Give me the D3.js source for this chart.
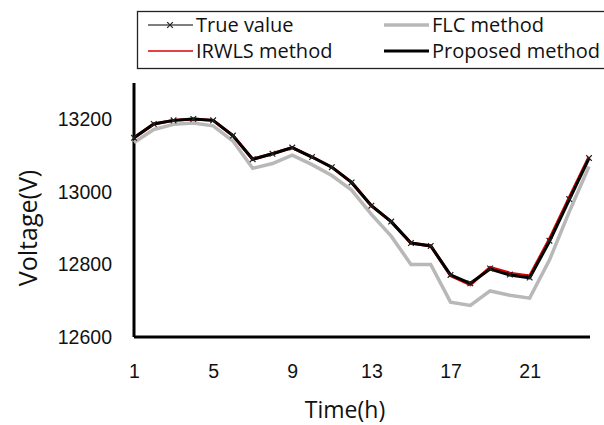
<!DOCTYPE html>
<html>
<head>
<meta charset="utf-8">
<script src="https://cdn.jsdelivr.net/npm/d3@7"></script>
<style>
  html,body{margin:0;padding:0;background:#fff;overflow:hidden;}
  svg{display:block;font-family:"Open Sans","Noto Sans",sans-serif;}
</style>
</head>
<body>
<svg id="chart" width="604" height="425"></svg>
<script>
// hours 1..24
const hours = d3.range(1, 25);
const trueValue = [13149,13187,13197,13201,13197,13155,13090,13105,13122,13096,13068,13026,
                   12962,12918,12859,12851,12771,12748,12789,12772,12764,12865,12980,13093];
const flcMethod = [13136,13172,13186,13190,13182,13140,13065,13078,13101,13075,13045,13005,
                   12938,12878,12800,12800,12696,12687,12727,12715,12707,12812,12945,13070];
const irwlsMethod = [13149,13187,13197,13201,13197,13155,13090,13105,13122,13096,13068,13026,
                     12962,12918,12859,12851,12769,12744,12792,12776,12768,12870,12984,13096];
const proposedMethod = [13149,13187,13197,13201,13197,13155,13090,13105,13122,13096,13068,13026,
                        12962,12918,12859,12851,12771,12748,12787,12771,12763,12863,12978,13092];
const xTicks = [1,5,9,13,17,21];
const yTicks = [12600,12800,13000,13200];

const svg = d3.select('#chart');
const x = d3.scaleLinear().domain([1,24]).range([134,589]);
const y = d3.scaleLinear().domain([12600,13300]).range([337,83]);

// axes
const xAxis = svg.append('g').attr('transform','translate(0,337)')
  .call(d3.axisBottom(x).tickValues(xTicks).tickSize(0).tickPadding(27));
xAxis.select('.domain').attr('stroke','#000').attr('stroke-width',3).attr('d','M134,0H590');
xAxis.selectAll('text').attr('font-size',19.5).attr('fill','#111');

const yAxis = svg.append('g').attr('transform','translate(134,0)')
  .call(d3.axisLeft(y).tickValues(yTicks).tickSize(0).tickPadding(22).tickFormat(d3.format('d')));
yAxis.select('.domain').attr('stroke','#000').attr('stroke-width',3).attr('d','M0,337V83');
yAxis.selectAll('text').attr('font-size',19.5).attr('fill','#111');

svg.append('text').attr('x',345).attr('y',418).attr('text-anchor','middle')
  .attr('font-size',23).attr('fill','#111').text('Time(h)');
svg.append('text').attr('transform','translate(37,228) rotate(-90)').attr('text-anchor','middle')
  .attr('font-size',25).attr('fill','#111').text('Voltage(V)');

// lines
const line = arr => d3.line().x((d,i)=>x(hours[i])).y(d=>y(d))(arr);
svg.append('path').attr('d',line(flcMethod)).attr('fill','none').attr('stroke','#b8b8b8').attr('stroke-width',3.5);
svg.append('path').attr('d',line(irwlsMethod)).attr('fill','none').attr('stroke','#e00000').attr('stroke-width',3);
svg.append('path').attr('d',line(proposedMethod)).attr('fill','none').attr('stroke','#000').attr('stroke-width',3);
svg.append('path').attr('d',line(trueValue)).attr('fill','none').attr('stroke','#000').attr('stroke-width',1.2);

svg.append('g').selectAll('path').data(trueValue).join('path')
  .attr('transform',(d,i)=>`translate(${x(hours[i])},${y(d)}) rotate(45)`)
  .attr('d', 'M-4,0H4M0,-4V4')
  .attr('stroke','#222').attr('stroke-width',1.2).attr('fill','none');

// legend
const lg = svg.append('g');
lg.append('rect').attr('x',137.5).attr('y',11.5).attr('width',480).attr('height',57)
  .attr('fill','#fff').attr('stroke','#222').attr('stroke-width',1.3);
const legendItems = [
  {name:'True value', color:'#000', w:1.2, mark:true, lx:148, ly:25},
  {name:'FLC method', color:'#b8b8b8', w:3.5, mark:false, lx:384, ly:25},
  {name:'IRWLS method', color:'#e00000', w:1.5, mark:false, lx:148, ly:51},
  {name:'Proposed method', color:'#000', w:3, mark:false, lx:384, ly:51}
];
legendItems.forEach(it=>{
  lg.append('line').attr('x1',it.lx).attr('x2',it.lx+45).attr('y1',it.ly).attr('y2',it.ly)
    .attr('stroke',it.color).attr('stroke-width',it.w);
  if(it.mark){
    lg.append('path').attr('transform',`translate(${it.lx+22},${it.ly}) rotate(45)`)
      .attr('d','M-4,0H4M0,-4V4').attr('stroke','#222').attr('stroke-width',1.2);
  }
  lg.append('text').attr('x',it.lx+48).attr('y',it.ly).attr('dy','0.36em')
    .attr('font-size',20).attr('fill','#111').text(it.name);
});
</script>
</body>
</html>
